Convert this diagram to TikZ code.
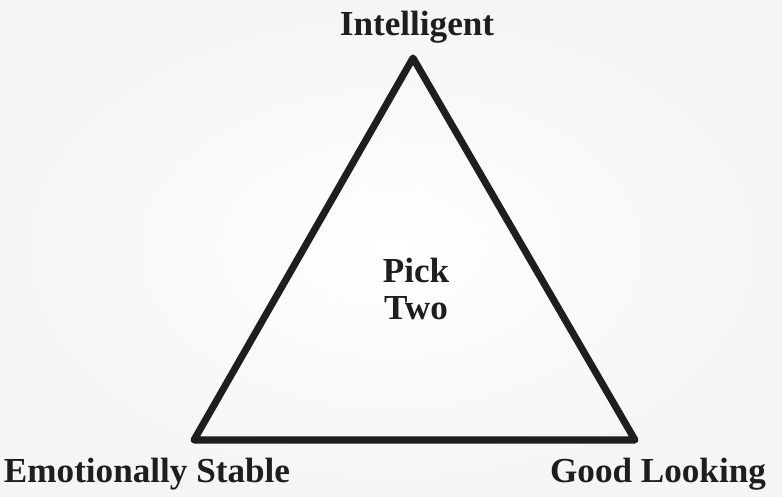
\documentclass[tikz,border=0pt]{standalone}
\usepackage{fontspec}
\setmainfont{Liberation Serif}
\usetikzlibrary{positioning,calc}
\definecolor{InkGray}{RGB}{30,30,30}
\tikzset{
	corner/.style={font=\bfseries\fontsize{20}{23}\selectfont,text=InkGray,inner sep=0pt},
	side/.style={draw=InkGray,line width=4pt,line join=round},
	middle/.style={font=\bfseries\fontsize{20}{21.5}\selectfont,text=InkGray,align=center},
}

\begin{document}
\begin{tikzpicture}[x=0.02cm,y=-0.02cm]
	\useasboundingbox (0,0) rectangle (782,497);
	\shade[inner color=white,outer color=black!4] (0,0) rectangle (782,497);
	\coordinate (top) at (413,58);
	\coordinate (left) at (194,440);
	\coordinate (right) at (635,440);
	\draw[side] (top)--(left)--(right)--cycle;
	\node[corner] (intel) at (417,27) {Intelligent};
	\node[corner] (stable) at (147,474) {Emotionally Stable};
	\node[corner] (looks) at (658,474) {Good Looking};
	\node[middle] (pick) at (416,289) {Pick\\Two};
\end{tikzpicture}
\end{document}
